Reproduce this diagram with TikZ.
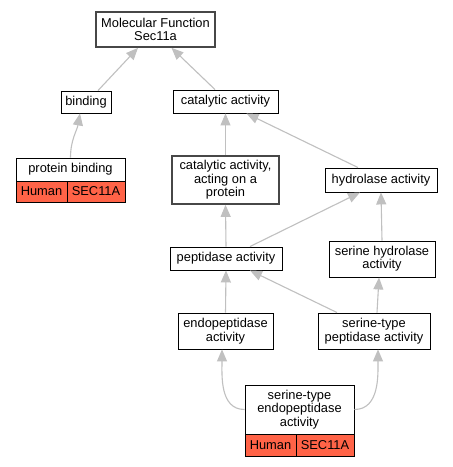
\documentclass[tikz,border=0pt]{standalone}
\usepackage{fontspec}
\setmainfont{Liberation Sans}
\usetikzlibrary{arrows.meta}
\definecolor{tomatoc}{HTML}{FF6347}
\definecolor{edgec}{HTML}{C0C0C0}
\begin{document}
\begin{tikzpicture}[x=1bp,y=-1bp,
  box/.style={draw=black, line width=0.9bp, fill=white, inner sep=0pt, align=center,
    font=\fontsize{12.9}{13.4}\selectfont},
  heavybox/.style={box, draw=black!72, line width=1.7bp},
  cell/.style={box, fill=tomatoc, minimum height=21bp},
  edge/.style={draw=edgec, line width=1.1bp, -{Triangle[length=12bp,width=10bp]}}]
\useasboundingbox (0,0) rectangle (453,467);
\fill[white] (0,0) rectangle (453,467);

\node[heavybox, minimum width=119bp, minimum height=35bp] (mf) at (155.5,29.5) {Molecular Function\\Sec11a};
\node[box, minimum width=50bp, minimum height=22bp] (bind) at (86,102) {binding};
\node[box, minimum width=105bp, minimum height=23bp] (cat) at (225.5,101.5) {catalytic activity};
\node[box, minimum width=109bp, minimum height=23bp] (pb) at (70.5,169.5) {protein binding};
\node[cell, minimum width=51bp] (pbh) at (41.5,191.5) {Human};
\node[cell, minimum width=58bp] (pbs) at (96,191.5) {SEC11A};
\node[heavybox, minimum width=107bp, minimum height=48bp] (cap) at (225.5,180) {catalytic activity,\\acting on a\\protein};
\node[box, minimum width=112bp, minimum height=24bp] (hyd) at (381,180) {hydrolase activity};
\node[box, minimum width=112bp, minimum height=23bp] (pep) at (226,258.5) {peptidase activity};
\node[box, minimum width=106bp, minimum height=36bp] (sh) at (382,259) {serine hydrolase\\activity};
\node[box, minimum width=95bp, minimum height=36bp] (endo) at (225.5,331) {endopeptidase\\activity};
\node[box, minimum width=112bp, minimum height=36bp] (stp) at (374,331) {serine-type\\peptidase activity};
\node[box, minimum width=109bp, minimum height=49bp] (ste) at (299.5,409.5) {serine-type\\endopeptidase\\activity};
\node[cell, minimum width=51bp, minimum height=22bp] (steh) at (270.5,445) {Human};
\node[cell, minimum width=58bp, minimum height=22bp] (stes) at (325,445) {SEC11A};

\draw[edge] ([xshift=12bp]bind.north) -- ([xshift=-17.5bp]mf.south);
\draw[edge] ([xshift=-10.5bp]cat.north) -- ([xshift=16bp]mf.south);
\draw[edge] (pb.north) to[out=90,in=-100] ([xshift=-6bp]bind.south);
\draw[edge] (cap.north) -- (cat.south);
\draw[edge] ([xshift=-23bp]hyd.north) -- ([xshift=21bp]cat.south);
\draw[edge] ([xshift=24bp]pep.north) -- ([xshift=-21bp]hyd.south);
\draw[edge] (pep.north) -- (cap.south);
\draw[edge] (sh.north) -- (hyd.south);
\draw[edge] (endo.north) -- (pep.south);
\draw[edge] ([xshift=-37bp]stp.north) -- ([xshift=24bp]pep.south);
\draw[edge] ([xshift=3bp]stp.north) -- ([xshift=-3bp]sh.south);
\draw[edge] (ste.west) to[out=180,in=-90] ([xshift=-3.5bp]endo.south);
\draw[edge] (ste.east) to[out=0,in=-90] ([xshift=4bp]stp.south);
\end{tikzpicture}
\end{document}
